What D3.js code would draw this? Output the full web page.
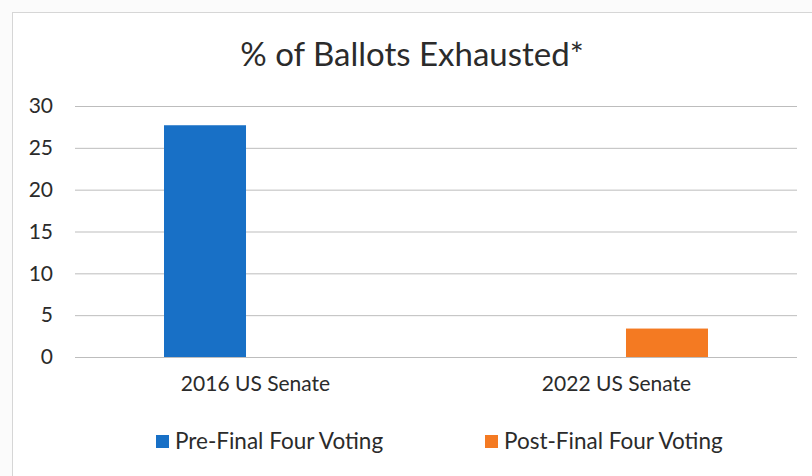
<!DOCTYPE html>
<html>
<head>
<meta charset="utf-8">
<script src="https://cdn.jsdelivr.net/npm/d3@7"></script>
<style>
  body { margin: 0; background: #fbfbfb; }
  svg { display: block; }
  .tick text { font-family: Lato, "Open Sans", sans-serif; }
</style>
</head>
<body>
<svg id="chart" width="812" height="476"></svg>
<script>
'use strict';

// values
var categories = ["2016 US Senate", "2022 US Senate"];
var seriesNames = ["Pre-Final Four Voting", "Post-Final Four Voting"];
var preFinalFour = [27.7, 0];
var postFinalFour = [0, 3.4];
var yTicks = [0, 5, 10, 15, 20, 25, 30];

var colors = ["#1870c6", "#f47a22"];
var textColor = "#2b2b2b";

var svg = d3.select("#chart");
var plot = { left: 75, right: 797, top: 106, bottom: 357 };

// chart frame
svg.append("rect")
    .attr("x", 12.5).attr("y", 12.5)
    .attr("width", 812).attr("height", 476)
    .attr("fill", "#ffffff")
    .attr("stroke", "#d6d6d6");

svg.append("text")
    .attr("x", 412).attr("y", 66)
    .attr("text-anchor", "middle")
    .attr("font-family", "Lato, 'Open Sans', sans-serif")
    .attr("font-size", 33)
    .attr("fill", textColor)
    .text("% of Ballots Exhausted*");

var y = d3.scaleLinear().domain([0, 30]).range([plot.bottom, plot.top]);

var x0 = d3.scaleBand()
    .domain(categories)
    .range([plot.left, plot.right])
    .padding(0);

var mid = x0.bandwidth() / 2;
var x1 = d3.scaleBand()
    .domain(seriesNames)
    .range([mid - 91.5, mid + 91.5])
    .paddingInner(0.188)
    .paddingOuter(0);

// grid lines
svg.append("g")
    .selectAll("line")
    .data(yTicks)
    .enter()
    .append("line")
    .attr("x1", plot.left).attr("x2", plot.right)
    .attr("y1", function (d) { return y(d) + 0.5; })
    .attr("y2", function (d) { return y(d) + 0.5; })
    .attr("stroke", "#bdbdbd")
    .attr("stroke-width", 1);

// y axis labels
var yAxis = d3.axisLeft(y).tickValues(yTicks).tickSize(0).tickPadding(0);
var gy = svg.append("g")
    .attr("transform", "translate(53,0)")
    .call(yAxis);
gy.select(".domain").remove();
gy.selectAll("text")
    .attr("font-size", 21)
    .attr("fill", textColor);

// x axis labels
var xAxis = d3.axisBottom(x0).tickSize(0).tickPadding(0);
var gx = svg.append("g")
    .attr("transform", "translate(0,376)")
    .call(xAxis);
gx.select(".domain").remove();
gx.selectAll("text")
    .attr("font-size", 21)
    .attr("fill", textColor);

// bars
var seriesData = [preFinalFour, postFinalFour];
categories.forEach(function (cat, ci) {
    var g = svg.append("g")
        .attr("transform", "translate(" + x0(cat) + ",0)");
    g.selectAll("rect")
        .data(seriesNames)
        .enter()
        .append("rect")
        .attr("x", function (s) { return x1(s); })
        .attr("width", x1.bandwidth())
        .attr("y", function (s, si) { return y(seriesData[si][ci]); })
        .attr("height", function (s, si) { return y(0) - y(seriesData[si][ci]); })
        .attr("fill", function (s, si) { return colors[si]; });
});

// legend
var legendX = [156, 485];
var legend = svg.append("g");
seriesNames.forEach(function (name, i) {
    var item = legend.append("g")
        .attr("transform", "translate(" + legendX[i] + ",435)");
    item.append("rect")
        .attr("width", 13).attr("height", 13)
        .attr("fill", colors[i]);
    item.append("text")
        .attr("x", 19).attr("y", 14)
        .attr("font-family", "Lato, 'Open Sans', sans-serif")
        .attr("font-size", 22.5)
        .attr("fill", textColor)
        .text(name);
});
</script>
</body>
</html>
